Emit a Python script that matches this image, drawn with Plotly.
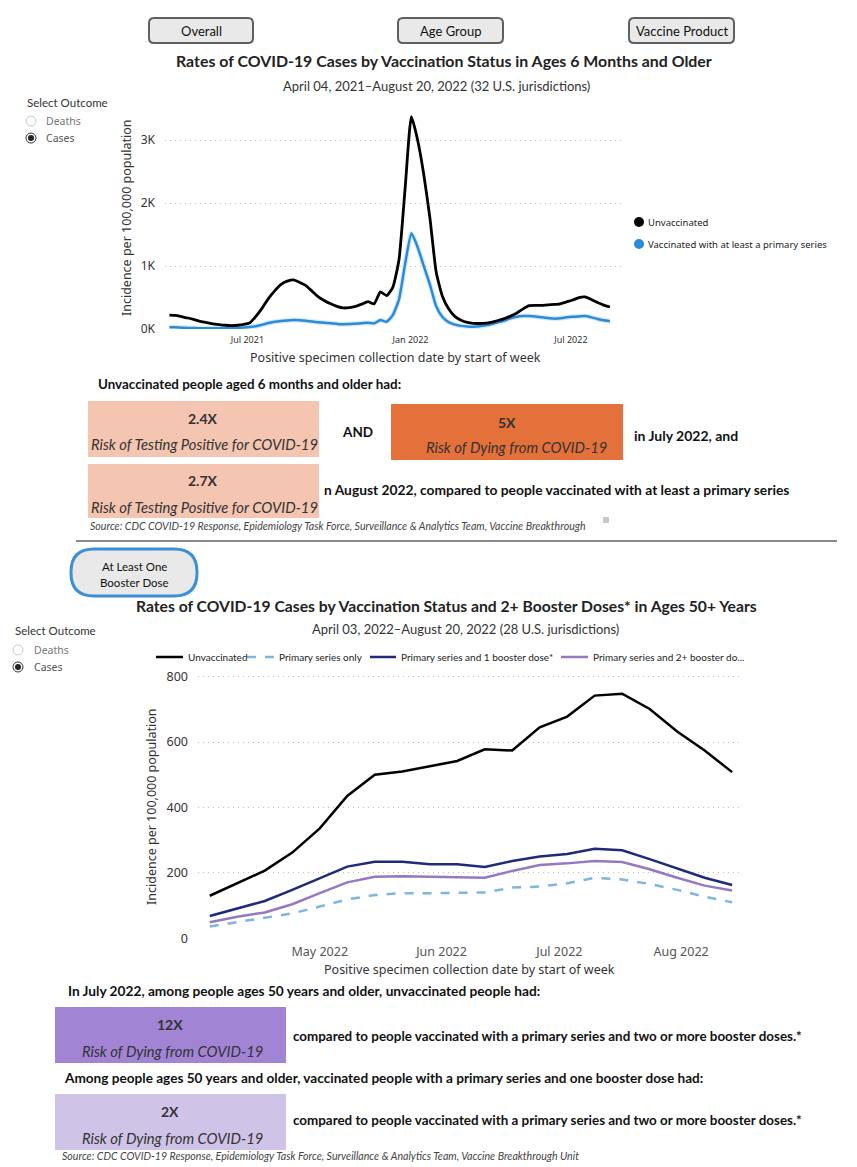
import pandas as pd
import plotly.graph_objects as go

# page body has an 8px margin; the captured viewport is slightly taller than the image,
# so vertical positions are stretched by S to land where intended
OFF = 8
S = 1175 / 1167
W, H = 857 - OFF, 1175 - 2 * OFF

# ---------------- data ----------------
top_dates = pd.date_range("2021-04-04", periods=72, freq="7D")
top_unvaccinated = [220, 215, 195, 175, 150, 120, 100, 82, 70, 60, 55, 60, 75, 100, 210, 340,
                    490, 610, 710, 760, 780, 740, 690, 600, 510, 450, 400, 360, 335, 340, 360, 395,
                    435, 400, 590, 530, 660, 1100, 2250, 3370, 3000, 2450, 1750, 900, 520, 320, 200, 140,
                    105, 90, 88, 92, 110, 135, 165, 205, 255, 320, 370, 375, 375, 385, 390, 400,
                    430, 460, 500, 510, 470, 420, 380, 350]
top_vaccinated = [30, 28, 22, 18, 15, 13, 12, 12, 12, 13, 15, 18, 24, 32, 45, 70,
                  95, 115, 128, 137, 143, 140, 130, 118, 108, 98, 90, 82, 76, 78, 85, 92,
                  100, 90, 143, 116, 220, 470, 1040, 1520, 1300, 1000, 700, 360, 190, 110, 70, 50,
                  40, 37, 45, 60, 80, 105, 135, 170, 195, 205, 206, 200, 185, 175, 165, 170,
                  185, 195, 200, 205, 185, 160, 140, 125]
top_ytick_vals = [0, 1000, 2000, 3000]
top_ytick_text = ["0K", "1K", "2K", "3K"]
top_xtick_vals = ["2021-07-01", "2022-01-01", "2022-07-01"]
top_xtick_text = ["Jul 2021", "Jan 2022", "Jul 2022"]

bot_dates = pd.date_range("2022-04-03", periods=20, freq="7D")
bot_unvaccinated = [130, 168, 207, 262, 336, 435, 500, 510, 527, 542, 578, 574, 645, 678, 742, 748, 701, 632, 574, 508]
bot_primary_only = [36, 49, 61, 76, 97, 119, 132, 138, 138, 140, 140, 155, 158, 168, 185, 180, 166, 148, 127, 110]
bot_one_booster = [68, 92, 114, 148, 183, 219, 234, 234, 226, 226, 218, 236, 250, 258, 274, 269, 242, 214, 185, 163]
bot_two_booster = [49, 66, 79, 104, 138, 171, 188, 190, 188, 187, 185, 206, 224, 229, 236, 233, 211, 185, 161, 146]
bot_ytick_vals = [0, 200, 400, 600, 800]
bot_xtick_vals = ["2022-05-01", "2022-06-01", "2022-07-01", "2022-08-01"]
bot_xtick_text = ["May 2022", "Jun 2022", "Jul 2022", "Aug 2022"]

# ---------------- helpers ----------------
NARROW = "Lato, sans-serif"
SANS = "Noto Sans, sans-serif"


def px(x):
    return (x - OFF) / W


def py(y):
    return 1 - (y * S - OFF) / H


annotations = []
shapes = []


def text(x, y, s, size=12, family=NARROW, color="#252423", anchor="left", angle=0, yanchor="middle"):
    annotations.append(dict(x=px(x), y=py(y), xref="paper", yref="paper", text=s, showarrow=False,
                            xanchor=anchor, yanchor=yanchor, textangle=angle,
                            font=dict(size=size, family=family, color=color)))


def rrect(x0, y0, x1, y1, r, fill, line, lw):
    rx, ry = r / W, r * S / H
    X0, X1 = px(x0), px(x1)
    Y0, Y1 = py(y0), py(y1)
    p = (f"M {X0 + rx},{Y0} L {X1 - rx},{Y0} Q {X1},{Y0} {X1},{Y0 - ry} "
         f"L {X1},{Y1 + ry} Q {X1},{Y1} {X1 - rx},{Y1} L {X0 + rx},{Y1} "
         f"Q {X0},{Y1} {X0},{Y1 + ry} L {X0},{Y0 - ry} Q {X0},{Y0} {X0 + rx},{Y0} Z")
    shapes.append(dict(type="path", path=p, xref="paper", yref="paper", fillcolor=fill,
                       line=dict(color=line, width=lw), layer="below"))


def rect(x0, y0, x1, y1, fill):
    shapes.append(dict(type="rect", xref="paper", yref="paper", x0=px(x0), x1=px(x1), y0=py(y1), y1=py(y0),
                       fillcolor=fill, line=dict(width=0), layer="below"))


def circle(cx, cy, r, fill, line, lw):
    shapes.append(dict(type="circle", xref="paper", yref="paper", x0=px(cx - r), x1=px(cx + r),
                       y0=py(cy + r), y1=py(cy - r), fillcolor=fill, line=dict(color=line, width=lw)))


def hline(x0, x1, y, color, width, dash="solid"):
    shapes.append(dict(type="line", xref="paper", yref="paper", x0=px(x0), x1=px(x1), y0=py(y), y1=py(y),
                       line=dict(color=color, width=width, dash=dash)))


# ---------------- figure ----------------
fig = go.Figure()

# top chart
fig.add_trace(go.Scatter(x=top_dates, y=top_vaccinated, mode="lines", xaxis="x", yaxis="y",
                         line=dict(color="rgba(42,139,216,0.18)", width=5, shape="spline", smoothing=0.5),
                         hoverinfo="skip", showlegend=False))
fig.add_trace(go.Scatter(x=top_dates, y=top_vaccinated, mode="lines", xaxis="x", yaxis="y",
                         name="Vaccinated with at least a primary series",
                         line=dict(color="#2a8bd8", width=2.5, shape="spline", smoothing=0.5), showlegend=False))
fig.add_trace(go.Scatter(x=top_dates, y=top_unvaccinated, mode="lines", xaxis="x", yaxis="y",
                         name="Unvaccinated",
                         line=dict(color="#000000", width=2.8, shape="spline", smoothing=0.5), showlegend=False))

# bottom chart
fig.add_trace(go.Scatter(x=bot_dates, y=bot_primary_only, mode="lines", xaxis="x2", yaxis="y2",
                         name="Primary series only", line=dict(color="#7db7de", width=2.5, dash="dash"),
                         showlegend=False))
fig.add_trace(go.Scatter(x=bot_dates, y=bot_two_booster, mode="lines", xaxis="x2", yaxis="y2",
                         name="Primary series and 2+ booster doses*", line=dict(color="#9479c2", width=2.5),
                         showlegend=False))
fig.add_trace(go.Scatter(x=bot_dates, y=bot_one_booster, mode="lines", xaxis="x2", yaxis="y2",
                         name="Primary series and 1 booster dose*", line=dict(color="#1f2a7a", width=2.5),
                         showlegend=False))
fig.add_trace(go.Scatter(x=bot_dates, y=bot_unvaccinated, mode="lines", xaxis="x2", yaxis="y2",
                         name="Unvaccinated", line=dict(color="#000000", width=2.5),
                         showlegend=False))

grid = dict(showgrid=True, gridcolor="#bdbdbd", griddash="1px,4px", gridwidth=1, zeroline=False,
            showline=False, ticks="", ticklabelstandoff=9)

# ---------------- decorations: top section ----------------
for x0, x1, label in [(149, 253, "Overall"), (398, 503, "Age Group"), (629, 734, "Vaccine Product")]:
    rrect(x0, 18, x1, 43, 5, "#e9e9e9", "#5f5f5f", 2)
    text((x0 + x1) / 2, 31, label, size=13, anchor="center", color="#111")

text(444, 60, "<b>Rates of COVID-19 Cases by Vaccination Status in Ages 6 Months and Older</b>", size=15.9,
     anchor="center", color="#222")
text(436, 86, "April 04, 2021\u2013August 20, 2022 (32 U.S. jurisdictions)", size=13, anchor="center",
     color="#333")

text(25, 102, "Select Outcome", size=11.5, color="#333")
circle(31, 121, 5, "white", "#c8c8c8", 1)
text(44, 121, "Deaths", size=10.5, family=SANS, color="#777")
circle(31, 138, 5, "white", "#333", 1)
circle(31, 138, 3, "#222", "#222", 0)
text(44, 138, "Cases", size=10.5, family=SANS, color="#555")

text(126, 217, "Incidence per 100,000 population", size=12.5, family=SANS, color="#333", anchor="center",
     angle=-90)
text(395, 357, "Positive specimen collection date by start of week", size=12.5, family=SANS, color="#333",
     anchor="center")

circle(639, 222, 5, "#000", "#000", 0)
text(646, 222, "Unvaccinated", size=9.5, family=SANS, color="#222")
circle(639, 244, 5, "#2a8bd8", "#2a8bd8", 0)
text(646, 244, "Vaccinated with at least a primary series", size=9.5, family=SANS, color="#222")

text(96, 384, "<b>Unvaccinated people aged 6 months and older had:</b>", size=13.4, color="#111")

rect(88, 401, 319, 457, "#f4c5b1")
text(203, 418, "<b>2.4X</b>", size=14, anchor="center", color="#333")
text(204, 444, "<i>Risk of Testing Positive for COVID-19</i>", size=14.8, anchor="center", color="#333")
text(357, 432, "<b>AND</b>", size=13.5, anchor="center", color="#111")
rect(391, 404, 623, 460, "#e4703a")
text(507, 422, "<b>5X</b>", size=14, anchor="center", color="#333")
text(516, 447, "<i>Risk of Dying from COVID-19</i>", size=14.8, anchor="center", color="#333")
text(632, 435, "<b>in July 2022, and</b>", size=14, color="#111")

rect(88, 464, 319, 518, "#f4c5b1")
text(203, 480, "<b>2.7X</b>", size=14, anchor="center", color="#333")
text(204, 507, "<i>Risk of Testing Positive for COVID-19</i>", size=14.8, anchor="center", color="#333")
text(322, 489, "<b>n August 2022, compared to people vaccinated with at least a primary series</b>", size=13.8,
     color="#111")
text(88, 526, "<i>Source: CDC COVID-19 Response, Epidemiology Task Force, Surveillance &amp; Analytics Team, Vaccine Breakthrough</i>",
     size=10.6, color="#444")
rect(603, 517, 609, 523, "#c8c8c8")

hline(76, 837, 541, "#8a8a8a", 2)

# ---------------- decorations: bottom section ----------------
rrect(71, 549, 197, 596, 23, "#e9e9e9", "#3a8fd6", 3)
text(134, 566, "At Least One", size=11.5, anchor="center", color="#111")
text(134, 582, "Booster Dose", size=11.5, anchor="center", color="#111")

text(446, 606, "<b>Rates of COVID-19 Cases by Vaccination Status and 2+ Booster Doses* in Ages 50+ Years</b>",
     size=15.7, anchor="center", color="#222")
text(466, 629, "April 03, 2022\u2013August 20, 2022 (28 U.S. jurisdictions)", size=13, anchor="center",
     color="#333")

text(13, 631, "Select Outcome", size=11.5, color="#333")
circle(18, 650, 5, "white", "#c8c8c8", 1)
text(32, 650, "Deaths", size=10.5, family=SANS, color="#777")
circle(18, 667, 5, "white", "#333", 1)
circle(18, 667, 3, "#222", "#222", 0)
text(32, 667, "Cases", size=10.5, family=SANS, color="#555")

legend_items = [(156, 183, "#000000", "solid", "Unvaccinated"),
                (247, 274, "#7db7de", "dash", "Primary series only"),
                (370, 396, "#1f2a7a", "solid", "Primary series and 1 booster dose*"),
                (561, 588, "#9479c2", "solid", "Primary series and 2+ booster do...")]
for x0, x1, c, d, lab in legend_items:
    hline(x0, x1, 657, c, 2.5, d)
    text(x1 + 3, 657, lab, size=10, color="#222")

text(152, 807, "Incidence per 100,000 population", size=12.5, family=SANS, color="#333", anchor="center",
     angle=-90)
text(469, 970, "Positive specimen collection date by start of week", size=12.5, family=SANS, color="#333",
     anchor="center")

text(66, 991, "<b>In July 2022, among people ages 50 years and older, unvaccinated people had:</b>", size=13.7,
     color="#111")
rect(55, 1007, 286, 1063, "#a184d3")
text(170, 1025, "<b>12X</b>", size=14, anchor="center", color="#333")
text(172, 1051, "<i>Risk of Dying from COVID-19</i>", size=14.8, anchor="center", color="#333")
text(291, 1036, "<b>compared to people vaccinated with a primary series and two or more booster doses.*</b>",
     size=13.4, color="#111")
text(62, 1078, "<b>Among people ages 50 years and older, vaccinated people with a primary series and one booster dose had:</b>",
     size=13.6, color="#111")
rect(55, 1094, 286, 1150, "#cfc3e8")
text(170, 1112, "<b>2X</b>", size=14, anchor="center", color="#333")
text(172, 1138, "<i>Risk of Dying from COVID-19</i>", size=14.8, anchor="center", color="#333")
text(291, 1120, "<b>compared to people vaccinated with a primary series and two or more booster doses.*</b>",
     size=13.4, color="#111")
text(60, 1156, "<i>Source: CDC COVID-19 Response, Epidemiology Task Force, Surveillance &amp; Analytics Team, Vaccine Breakthrough Unit</i>",
     size=10.6, color="#444")

fig.update_layout(
    width=W, height=H, margin=dict(l=0, r=0, t=0, b=0),
    paper_bgcolor="white", plot_bgcolor="white", showlegend=False,
    xaxis=dict(domain=[px(165), px(625)], anchor="y", type="date",
               range=["2021-03-30", "2022-08-31"], tickvals=top_xtick_vals, ticktext=top_xtick_text,
               tickfont=dict(size=9, family=SANS, color="#333"), showgrid=False, zeroline=False,
               showline=False, ticks="", ticklabelstandoff=4),
    yaxis=dict(domain=[py(329), py(110)], anchor="x", range=[0, 3476], tickvals=top_ytick_vals,
               ticktext=top_ytick_text, tickfont=dict(size=12, family=SANS, color="#333"), **grid),
    xaxis2=dict(domain=[px(198), px(740)], anchor="y2", type="date",
                range=["2022-03-31", "2022-08-16"], tickvals=bot_xtick_vals, ticktext=bot_xtick_text,
                tickfont=dict(size=12.5, family=SANS, color="#555"), showgrid=False, zeroline=False,
                showline=False, ticks="", ticklabelstandoff=4),
    yaxis2=dict(domain=[py(938.3), py(660.3)], anchor="x2", range=[0, 850], tickvals=bot_ytick_vals,
                tickfont=dict(size=12.5, family=SANS, color="#333"), **grid),
    annotations=annotations, shapes=shapes,
)

fig.write_html("out.html")
